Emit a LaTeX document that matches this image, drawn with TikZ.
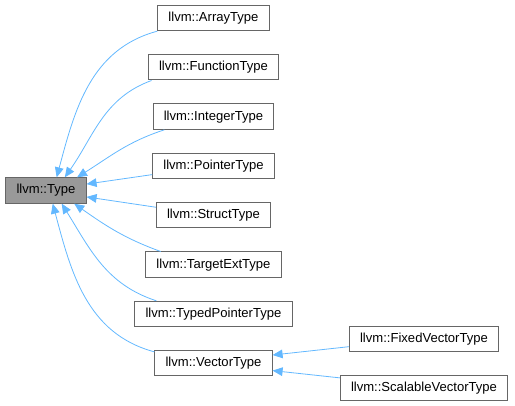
\documentclass[tikz,border=0pt]{standalone}
\usepackage{fontspec}
\setmainfont{Liberation Sans}
\usepackage{tikz}
\usetikzlibrary{arrows.meta,positioning}
\definecolor{inherit}{HTML}{63B8FF}
\definecolor{frame}{HTML}{666666}
\definecolor{root}{HTML}{999999}
\tikzset{
  cls/.style={draw=frame,line width=0.75pt,fill=white,inner xsep=8pt,inner ysep=2pt,
    minimum height=19pt,font=\fontsize{9.8}{11}\selectfont},
  base/.style={cls,fill=root},
  isa/.style={-{Triangle[length=7.5pt,width=6.5pt]},draw=inherit,line width=0.6pt}
}
\begin{document}
\begin{tikzpicture}[x=0.75pt,y=0.75pt,node distance=17.25pt]
 \useasboundingbox (0,0) rectangle (515,-406);
 \node[base] (type) at (46,-190.5) {llvm::Type};
 \node[cls] (array) at (213.5,-18) {llvm::ArrayType};
 \node[cls,below=of array] (function) {llvm::FunctionType};
 \node[cls,below=of function] (integer) {llvm::IntegerType};
 \node[cls,below=of integer] (pointer) {llvm::PointerType};
 \node[cls,below=of pointer] (struct) {llvm::StructType};
 \node[cls,below=of struct] (targetext) {llvm::TargetExtType};
 \node[cls,below=of targetext] (typedptr) {llvm::TypedPointerType};
 \node[cls,below=of typedptr] (vector) {llvm::VectorType};
 \node[cls] (fixed) at (424,-338.8) {llvm::FixedVectorType};
 \node[cls] (scalable) at (424,-388.2) {llvm::ScalableVectorType};
 % subclasses point back to the base
 \draw[isa] (array.south west) to[out=195,in=75] (type.51);
 \draw[isa] (function.192) to[out=200,in=55] (type.35);
 \draw[isa] (integer.195) to[out=198,in=32] (type.23);
 \draw[isa] (pointer.188) -- (type.9);
 \draw[isa] (struct.172) -- (type.-9);
 \draw[isa] (targetext.166) to[out=160,in=-35] (type.-25);
 \draw[isa] (typedptr.167) to[out=162,in=-58] (type.-40);
 \draw[isa] (vector.169) to[out=165,in=-75] (type.-63);
 \draw[isa] (fixed.186) -- (vector.8);
 \draw[isa] (scalable.173) -- (vector.-7);
\end{tikzpicture}
\end{document}
